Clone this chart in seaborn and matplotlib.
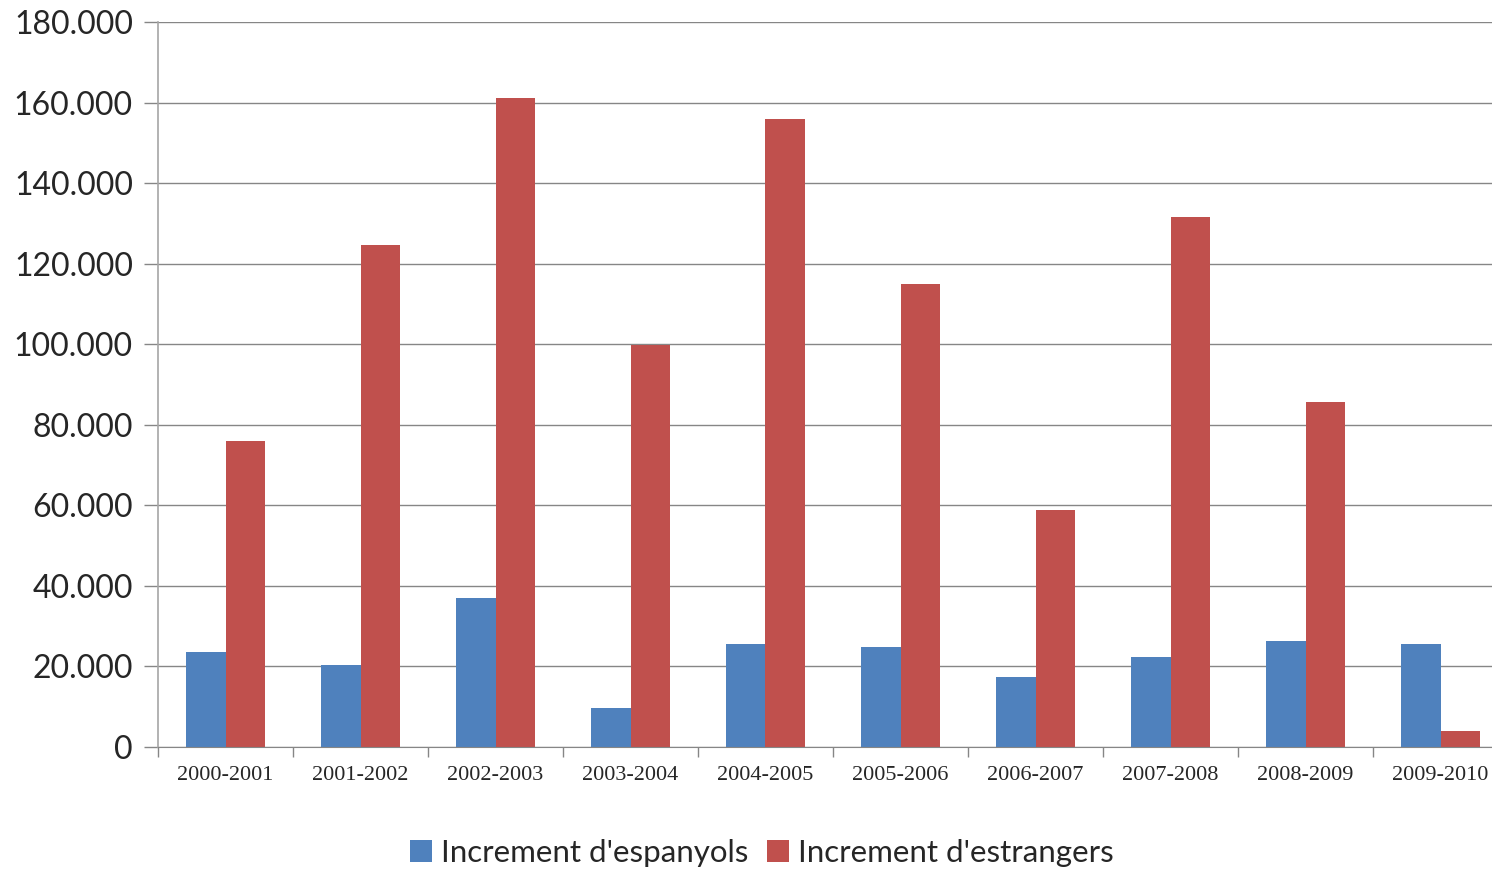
#setup
#importing libraries
import pandas as pd
import numpy as np
import matplotlib
matplotlib.use("Agg")
import matplotlib.pyplot as plt
import seaborn as sns
from matplotlib.ticker import FuncFormatter

#data
periods = ["2000-2001", "2001-2002", "2002-2003", "2003-2004", "2004-2005",
           "2005-2006", "2006-2007", "2007-2008", "2008-2009", "2009-2010"]
espanyols = [23600, 20400, 37000, 9700, 25600, 24800, 17400, 22300, 26300, 25600]
estrangers = [76000, 124600, 161100, 99800, 155900, 114900, 58800, 131600, 85600, 4000]
series_names = ["Increment d'espanyols", "Increment d'estrangers"]
colors = ["#4F81BD", "#C0504D"]

#long format table for seaborn
df = pd.DataFrame({
    "period": periods * 2,
    "value": espanyols + estrangers,
    "serie": [series_names[0]] * len(periods) + [series_names[1]] * len(periods),
})

sns.set_style("white")
plt.rcParams["font.family"] = ["Lato", "DejaVu Sans"]

fig = plt.figure(figsize=(14.92, 8.72), dpi=100)
#plot area runs past the right edge, like the original
ax = fig.add_axes([158 / 1492, 125 / 872, 1350 / 1492, 725 / 872])

sns.barplot(data=df, x="period", y="value", hue="serie", palette=colors,
            width=0.58, saturation=1, linewidth=0, ax=ax, legend=True)

ax.set_ylim(0, 180000)
ax.set_yticks(np.arange(0, 180001, 20000))
ax.yaxis.set_major_formatter(FuncFormatter(lambda v, p: f"{int(v):,}".replace(",", ".")))
ax.set_xlim(-0.5, len(periods) - 0.5)
ax.grid(axis="y", color="#868686", linewidth=1)
ax.set_axisbelow(True)
ax.set_xlabel("")
ax.set_ylabel("")

for side in ["top", "right"]:
    ax.spines[side].set_visible(False)
ax.spines["left"].set_color("#a6a6a6")
ax.spines["bottom"].set_color("#868686")
ax.spines["left"].set_linewidth(1.2)

#y ticks: outward ticks in gray, labels in Calibri-like sans
ax.tick_params(axis="y", which="major", length=10, width=1, color="#868686",
               labelsize=23, pad=8, left=True)
#x ticks sit between categories
ax.set_xticks(np.arange(len(periods)))
ax.set_xticklabels(periods, fontfamily=["Liberation Serif"], fontsize=16)
ax.tick_params(axis="x", which="major", length=0, pad=14)
ax.set_xticks(np.arange(len(periods) + 1) - 0.5, minor=True)
ax.tick_params(axis="x", which="minor", length=7, width=1, color="#868686", bottom=True)

leg = ax.legend(loc="center", bbox_to_anchor=(762 / 1492, 0.022), bbox_transform=fig.transFigure,
                ncol=2, frameon=False, fontsize=22.5, handlelength=0.7, handleheight=0.7,
                handletextpad=0.3, columnspacing=0.6)

fig.savefig("out.png", dpi=100)
